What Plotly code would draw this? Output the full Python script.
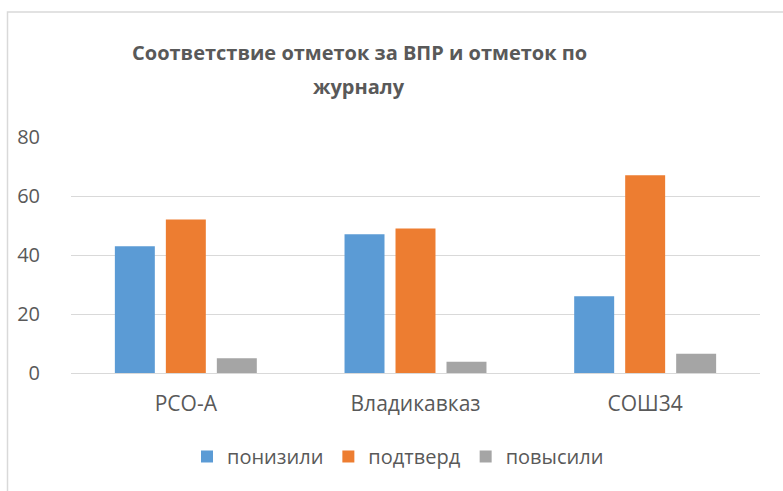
import plotly.graph_objects as go

categories = ["РСО-А", "Владикавказ", "СОШ34"]
ponizili = [43, 47, 26]
podtverd = [52, 49, 67]
povysili = [5, 3.8, 6.5]
series_names = ["понизили", "подтверд", "повысили"]
colors = ["#5B9BD5", "#ED7D31", "#A5A5A5"]
title_lines = ["Соответствие отметок за ВПР и отметок по", "журналу"]
y_ticks = [0, 20, 40, 60, 80]

W, H = 783, 491
L, R = 71, 760
T, B = 136.7, 373.3

def px(x):
    return (x - L) / (R - L)

def py(y):
    return (B - y) / (B - T)

FONT = "Open Sans"
TXT = "#595959"

fig = go.Figure()
for name, vals, c in zip(series_names, [ponizili, podtverd, povysili], colors):
    fig.add_trace(go.Bar(x=categories, y=vals, name=name, marker=dict(color=c, line=dict(width=0))))

fig.update_layout(
    width=W, height=H,
    margin=dict(l=L, r=W - R, t=T, b=H - B, pad=0),
    paper_bgcolor="white", plot_bgcolor="white",
    barmode="group", bargap=0.334, bargroupgap=0.216,
    font=dict(family=FONT, color=TXT),
    showlegend=True,
    legend=dict(orientation="h", x=px(398), xanchor="center", y=py(457), yanchor="middle",
                font=dict(size=20, color=TXT, family=FONT), itemwidth=30,
                traceorder="normal"),
    xaxis=dict(showgrid=False, showline=False, zeroline=False,
               ticks="outside", ticklen=12, tickcolor="rgba(0,0,0,0)",
               tickfont=dict(size=21, color=TXT, family=FONT)),
    yaxis=dict(range=[0, 80], tickvals=y_ticks, showgrid=True, gridcolor="#D9D9D9", gridwidth=1,
               zeroline=True, zerolinecolor="#D9D9D9", zerolinewidth=1, showline=False,
               ticks="outside", ticklen=26, tickcolor="rgba(0,0,0,0)",
               tickfont=dict(size=20, color=TXT, family=FONT)),
    shapes=[dict(type="rect", xref="paper", yref="paper",
                 x0=px(7.5), x1=px(820), y0=py(530), y1=py(11.5),
                 line=dict(color="#D9D9D9", width=1.5), fillcolor="rgba(0,0,0,0)", layer="below")],
)
for t, yy in zip(title_lines, [52, 86]):
    fig.add_annotation(text="<b>%s</b>" % t, xref="paper", yref="paper", x=px(359), y=py(yy),
                       xanchor="center", yanchor="middle", showarrow=False,
                       font=dict(size=20, color=TXT, family=FONT))

fig.write_html("out.html", config={"displayModeBar": False},
               post_script="document.body.style.margin='0';document.body.style.padding='0';")
